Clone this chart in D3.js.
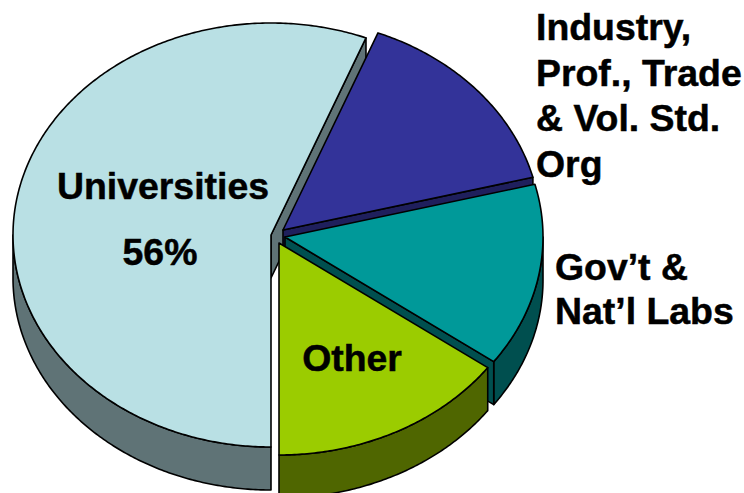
<!DOCTYPE html>
<html>
<head>
<meta charset="utf-8">
<script src="https://cdn.jsdelivr.net/npm/d3@7"></script>
<style>
  html, body { margin: 0; padding: 0; background: #fff; }
  svg { display: block; }
  text { font-family: "Liberation Sans", Arial, sans-serif; font-weight: 700; fill: #000; stroke: #000; stroke-width: 0.5px; }
</style>
</head>
<body>
<svg id="chart" width="744" height="493"></svg>
<script>
// Share of participants by sector
const categories = ["Universities", "Industry, Prof., Trade & Vol. Std. Org", "Gov’t & Nat’l Labs", "Other"];
const shares = [56, 15, 14, 15];

// Appearance of each wedge
const topColors  = ["#b9e0e4", "#333399", "#009999", "#9bcc00"];
const wallColors = ["#5f7376", "#1f1f5c", "#004f4f", "#4f6600"];

// Where each exploded wedge has its tip
const tips = [[271, 235], [283, 230], [285, 237], [279, 243]];

const radiusX = 258, radiusY = 212, depth = 43;
const FONT = 37.4;

const svg = d3.select("#chart");

const pie = d3.pie().sort(null).startAngle(Math.PI).endAngle(3 * Math.PI);
const wedges = pie(shares).map((d, i) => ({
  ...d, name: categories[i], tip: tips[i], top: topColors[i], wall: wallColors[i]
}));

// Tilted pie: angle 0 points up, angles grow clockwise
const rim = (w, a, drop = 0) => [
  w.tip[0] + radiusX * Math.sin(a),
  w.tip[1] - radiusY * Math.cos(a) + drop
];
const arcSamples = (a0, a1) => {
  const n = Math.max(2, Math.ceil(Math.abs(a1 - a0) / 0.01));
  return d3.range(n + 1).map(k => a0 + (a1 - a0) * k / n);
};
const line = d3.line();

function shape(points, fill) {
  svg.append("path")
    .attr("d", line(points) + "Z")
    .attr("fill", fill)
    .attr("stroke", "#000")
    .attr("stroke-width", 1.6)
    .attr("stroke-linejoin", "round");
}

function cutWall(w, a) {
  const p = rim(w, a);
  shape([w.tip, p, [p[0], p[1] + depth], [w.tip[0], w.tip[1] + depth]], w.wall);
}

function outerWall(w, a0, a1) {
  const upper = arcSamples(a0, a1).map(a => rim(w, a));
  const lower = arcSamples(a1, a0).map(a => rim(w, a, depth));
  shape(upper.concat(lower), w.wall);
}

function topFace(w) {
  shape([w.tip].concat(arcSamples(w.startAngle, w.endAngle).map(a => rim(w, a))), w.top);
}

const [uni, industry, gov, other] = wedges;

// Painted back to front so nearer wedges cover the walls behind them
cutWall(uni, uni.endAngle);
cutWall(industry, industry.endAngle);
topFace(industry);
outerWall(gov, 2.5 * Math.PI, gov.endAngle);
cutWall(gov, gov.endAngle);
topFace(gov);
outerWall(other, other.startAngle, other.endAngle);
topFace(other);
outerWall(uni, uni.startAngle, 1.5 * Math.PI);
topFace(uni);

// Labels
const labels = [
  { lines: ["Universities"], x: 163, y: 199, anchor: "middle" },
  { lines: ["56%"], x: 160, y: 265, anchor: "middle" },
  { lines: ["Industry,", "Prof., Trade", "& Vol. Std.", "Org"], x: 536, y: 40, anchor: "start", lead: 45.5 },
  { lines: ["Gov’t &", "Nat’l Labs"], x: 555, y: 280, anchor: "start", lead: 44 },
  { lines: ["Other"], x: 352, y: 371, anchor: "middle" }
];
labels.forEach(l => {
  l.lines.forEach((t, i) => {
    svg.append("text")
      .attr("x", l.x)
      .attr("y", l.y + i * (l.lead || 0))
      .attr("text-anchor", l.anchor)
      .attr("font-size", FONT)
      .text(t);
  });
});
</script>
</body>
</html>
